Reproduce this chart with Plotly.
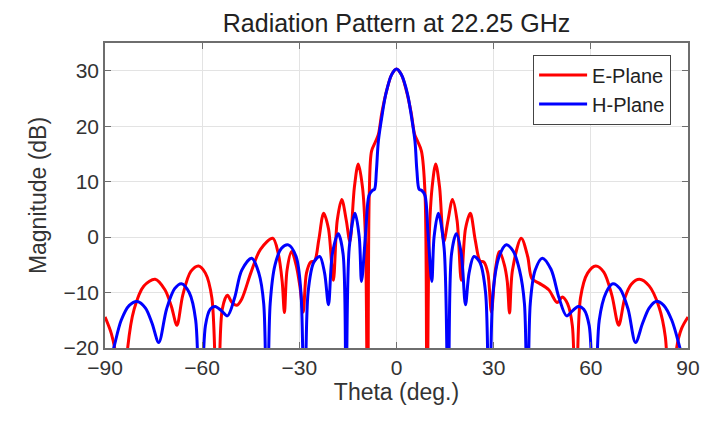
import plotly.graph_objects as go

# E-plane pattern (theta in deg, magnitude in dB)
E_THETA = [-90, -88, -86.5, -84.8, -83, -81, -78, -74.5, -71.5, -69.5, -67.8, -66, -63.5, -61.1,
           -59, -57, -55.2, -53.8, -52.2, -50.8, -49.3, -47.8, -45, -42, -38.2, -36.5, -35.3,
           -34.6, -33.8, -32.4, -31, -29.8, -28.8, -27.8, -26.5, -25.3, -24, -22.5, -21, -19.5,
           -18.3, -16.9, -15.5, -14.4, -13, -11.8, -10.5, -9.6, -8.9, -8.4, -7.7, -6.5, -5.6,
           -4.5, -3, -1.5, 0, 1.5, 3, 4.5, 5.6, 6.5, 7.7, 8.8, 9.4, 10.1, 11, 12.1, 13.3, 14.6,
           15.9, 17.3, 18.7, 20, 21.3, 22.8, 24.3, 25.8, 27, 28.2, 29.3, 30.5, 31.8, 33.3, 34.2,
           34.9, 35.8, 38.5, 40.5, 41.8, 44, 47, 49.6, 51.2, 52.8, 54.3, 55.3, 56.8, 59, 61.5,
           64, 66.5, 68.6, 70.5, 72.5, 75, 78, 81, 83, 84.8, 86.5, 88, 90]
E_DB = [-14.4, -17.5, -22, -40, -20, -13, -8.8, -7.6, -9.5, -12.5, -15.9, -10.5, -6.2, -5.2,
        -6.5, -11, -40, -13, -10.5, -11.8, -12.3, -11.2, -6.5, -2.2, -0.2, -3, -8,
        -13.6, -6, -2.6, -5, -9, -13.5, -6.5, -4.5, -4.3, -0.5, 4.3, 1.5, -7.8,
        3, 6.8, 3, -0.8, 9, 13.2, 9, 0, -40, 8, 15.5, 17.2, 18.5,
        22.5, 26.5, 29.3, 30.3, 29.3, 26.5, 22.5, 18.5, 17.3, 15.5, 8, -40, 0, 9, 13.2, 9, -0.8,
        3, 6.8, 3, -7.8, 1.5, 4.3, -0.5, -4.3, -4.5, -6.5, -13.5, -6, -2.6, -5, -8,
        -13.7, -6, -0.2, -3.5, -7.5, -8.3, -9.5, -11.8, -10.8, -12, -16, -40, -11, -6.5, -5.2,
        -6.3, -10.5, -15.9, -11, -8.5, -7.6, -8.8, -12.5, -18, -40, -20, -16.5, -14.4]

# H-plane pattern
H_THETA = [-90, -87.3, -85, -82.5, -80, -77.5, -75.5, -73.4, -71, -68.5, -66.4, -64, -62, -60.6,
           -59, -57.5, -56, -54, -52.2, -50, -47.8, -44.7, -42.5, -41, -40, -39, -37.5, -35.5,
           -33.4, -31, -29.5, -28.4, -27.3, -25.5, -23.7, -22.2, -21, -19.8, -18, -16.5, -15.6,
           -14.6, -12.8, -11.5, -10.8, -9.5, -8.5, -7.5, -6.8, -6.2, -5.6, -4.5, -3.3, -1.5, 0,
           1.5, 3.4, 4.6, 5.7, 6.3, 7, 7.8, 8.8, 9.7, 10.9, 11.6, 12.9, 14.7, 16, 17, 18.5, 20,
           21.3, 22.4, 23.9, 25.7, 27.5, 28.6, 29.8, 31.7, 33.9, 36, 38, 39.5, 40.4, 41.3, 42.8,
           45, 47.7, 50.2, 52.5, 54.3, 56.1, 57.8, 59.5, 61.1, 62.6, 64.7, 66.8, 69, 71.5, 73.8,
           76, 78, 80.1, 82.5, 85, 87.5, 90]
H_DB = [-26, -20, -15, -12.3, -11.6, -12.8, -15.5, -19, -13, -9.3, -8.4, -10, -15, -40,
        -16, -13, -12.5, -13.3, -14.2, -11, -6, -3.8, -6.5, -12, -40, -12, -5, -2,
        -1.4, -3.5, -10, -40, -10, -4.5, -3.5, -6.5, -12.2, -3, 0.6, -3, -40,
        -2, 4.3, 0, -8, 1, 7.5, 8.4, 8.6, 12, 17.3, 21.8, 25.8, 29.3, 30.3,
        29.3, 25.8, 21.8, 17.3, 12, 8.6, 8.4, 7.5, 1, -8, 0, 4.3, -2, -40, -3, 0.6, -3,
        -12.2, -6.5, -3.5, -4.5, -10, -40, -10, -3.5, -1.4, -2.5, -6, -12, -40, -12, -6,
        -3.8, -5.8, -11, -14.2, -13.3, -12.5, -13, -16, -40, -15, -10, -8.4, -9.3, -13, -19,
        -15.5, -12.8, -11.6, -12.3, -15, -20, -26]

X_TICKS = [-90, -60, -30, 0, 30, 60, 90]
Y_TICKS = [-20, -10, 0, 10, 20, 30]

FONT = "Liberation Sans, Arial, sans-serif"
AXIS_COLOR = "#6e6e6e"

fig = go.Figure()
fig.add_trace(go.Scatter(
    x=E_THETA, y=E_DB, mode="lines", name="E-Plane",
    line=dict(color="#ff0000", width=3, shape="spline", smoothing=0.9),
))
fig.add_trace(go.Scatter(
    x=H_THETA, y=H_DB, mode="lines", name="H-Plane",
    line=dict(color="#0000ff", width=3, shape="spline", smoothing=0.9),
))

axis_common = dict(
    showline=True, linecolor=AXIS_COLOR, linewidth=1.5, mirror="ticks",
    ticks="inside", ticklen=6, tickcolor=AXIS_COLOR,
    showgrid=True, gridcolor="#e3e3e3", gridwidth=1, zeroline=False,
    tickfont=dict(size=21, color="#333333", family=FONT),
)

fig.update_layout(
    width=715, height=428,
    paper_bgcolor="white", plot_bgcolor="white",
    margin=dict(l=97, r=35, t=35, b=88),
    title=dict(
        text="Radiation Pattern at 22.25 GHz",
        font=dict(size=25, color="#222222", family=FONT),
        x=0.5, xref="paper", y=0.965, yref="container",
        xanchor="center", yanchor="middle",
    ),
    xaxis=dict(
        range=[-90, 90], tickvals=X_TICKS,
        title=dict(text="Theta (deg.)", standoff=6,
                   font=dict(size=23, color="#333333", family=FONT)),
        **axis_common,
    ),
    yaxis=dict(
        range=[-20, 35], tickvals=Y_TICKS,
        title=dict(text="Magnitude (dB)", standoff=10,
                   font=dict(size=23, color="#333333", family=FONT)),
        **axis_common,
    ),
    legend=dict(
        x=0.971, y=0.962, xanchor="right", yanchor="top",
        bgcolor="white", bordercolor="#444444", borderwidth=1,
        font=dict(size=20, color="#222222", family=FONT),
        tracegroupgap=0, itemwidth=48,
    ),
    showlegend=True,
)

fig.write_html("out.html")
